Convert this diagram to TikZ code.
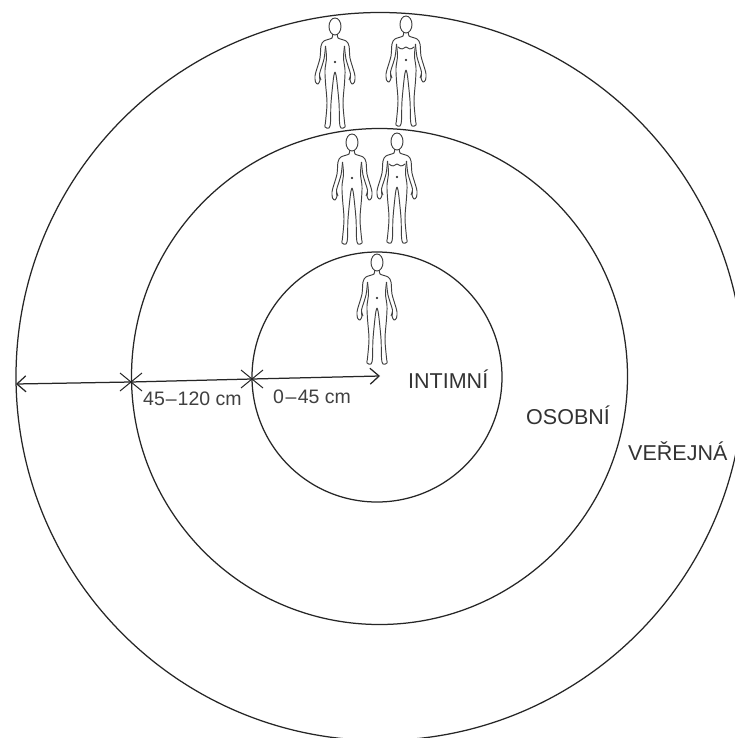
\documentclass[tikz,border=0pt]{standalone}
\usepackage{fontspec}
\setmainfont{Liberation Sans}
\usetikzlibrary{arrows.meta}
\tikzset{
  ink/.style={draw=black!85,line width=1.25pt},
  zone/.style={ink,circle,inner sep=0pt},
  lab/.style={text=black!80,inner sep=0pt,font=\fontsize{21.5}{24}\selectfont},
  dim/.style={text=black!75,inner sep=0pt,font=\fontsize{19.5}{22}\selectfont},
  body/.style={draw=black!75,line width=.95pt,line join=round},
  person/.pic={
    \draw[body] (0,8.5) ellipse [x radius=6,y radius=8.5];
    \foreach \s in {1,-1}{
      \draw[body,xscale=\s] plot[smooth,tension=.55] coordinates {(2.5,16) (3,20) (11,23) (14,28) (15,40) (18.5,52) (20,58) (19.5,64) (17,66) (15,62) (15.5,56) (11,41) (9.5,28)};
      \draw[body,xscale=\s] plot[smooth,tension=.55] coordinates {(9.5,28) (8.5,40) (10,52) (9.5,65) (8,85) (9.5,104) (10,109) (6,110) (4.5,104) (4,85) (1.5,60) (0,54)};
      \draw[body,xscale=\s] (15.5,58) -- (14,62);
    }
    \draw[body,line width=.7pt] (0,44) circle (.8);
  },
  womanmark/.pic={
    \draw[body] (-8,31) .. controls (-5,34) and (-2,33) .. (0,31) .. controls (2,33) and (5,34) .. (8,31);
  }
}
\begin{document}
\begin{tikzpicture}[x=1pt,y=-1pt]
\useasboundingbox (0,0) rectangle (734,738);
\fill[white] (0,0) rectangle (734,738);
\node[zone,minimum size=728pt] (outer) at (380,376.5) {};
\node[zone,minimum size=496pt] (middle) at (379.5,376.5) {};
\node[zone,minimum size=250pt] (inner) at (377,377) {};
\pic at (335,18) {person};
\pic at (406,16) {person};
\pic at (406,16) {womanmark};
\pic at (352,134) {person};
\pic at (397,133) {person};
\pic at (397,133) {womanmark};
\pic at (377,254) {person};
\coordinate (pl) at (16,384);
\coordinate (c1) at (131,382);
\coordinate (c2) at (252,379);
\coordinate (pr) at (380,376);
\draw[ink,{Straight Barb[length=9pt,width=16pt]}-{Straight Barb[length=9pt,width=16pt]}] (pl) -- (c1) -- (c2) -- (pr);
\foreach \c in {c1,c2}{
  \draw[ink,line width=1pt] ([shift={(-11,-9)}]\c) -- ([shift={(11,9)}]\c);
  \draw[ink,line width=1pt] ([shift={(-11,9)}]\c) -- ([shift={(11,-9)}]\c);
}
\node[dim,anchor=base west] (d1) at (143,405) {45\kern1pt–\kern1pt120 cm};
\node[dim,anchor=base west] (d2) at (273,403) {0\kern1.5pt–\kern1.5pt45 cm};
\node[lab,anchor=base west] (t1) at (408,388) {INTIMNÍ};
\node[lab,anchor=base west] (t2) at (526,424) {OSOBNÍ};
\node[lab,anchor=base west] (t3) at (628,460) {VEŘEJNÁ};
\end{tikzpicture}
\end{document}
